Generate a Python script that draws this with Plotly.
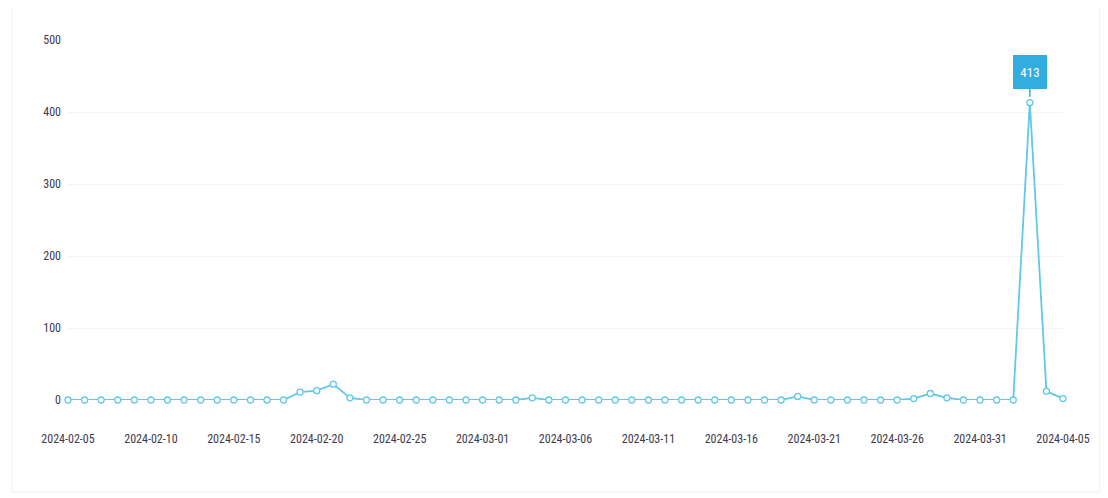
import plotly.graph_objects as go
import pandas as pd

dates = pd.date_range("2024-02-05", "2024-04-05", freq="D").strftime("%Y-%m-%d").tolist()
values = [
    0, 0, 0, 0, 0, 0, 0, 0, 0, 0,      # Feb 05-14
    0, 0, 0, 0, 11, 13, 22, 3, 0, 0,   # Feb 15-24
    0, 0, 0, 0, 0, 0, 0, 0, 3, 0,      # Feb 25-Mar 05
    0, 0, 0, 0, 0, 0, 0, 0, 0, 0,      # Mar 06-15
    0, 0, 0, 0, 5, 0, 0, 0, 0, 0,      # Mar 16-25
    0, 2, 9, 3, 0, 0, 0, 0, 413, 12,   # Mar 26-Apr 04
    2,                                 # Apr 05
]
tick_vals = dates[::5]
y_ticks = [0, 100, 200, 300, 400, 500]
peak_label = "413"

line_color = "#62c8e6"
label_color = "#33ade0"
text_color = "#3e3a4c"
font_family = "Liberation Sans Narrow, Arial Narrow, Roboto Condensed, Roboto, Liberation Sans"

fig = go.Figure()
fig.add_trace(go.Scatter(
    x=dates, y=values, mode="lines+markers",
    line=dict(color=line_color, width=1.8),
    marker=dict(symbol="circle", size=6, color="white",
                line=dict(color=line_color, width=1.3)),
    cliponaxis=False, hoverinfo="x+y", showlegend=False,
))

peak_i = values.index(max(values))
fig.add_annotation(
    x=dates[peak_i], y=values[peak_i], text=peak_label,
    showarrow=True, arrowhead=0, arrowwidth=1.5, arrowcolor=label_color,
    ax=0, ay=-31, standoff=6,
    bgcolor=label_color, bordercolor=label_color, borderwidth=1,
    width=30, height=30,
    font=dict(color="white", size=13, family=font_family),
)

fig.update_layout(
    width=1100, height=490,
    margin=dict(l=60, r=45, t=32, b=98, autoexpand=False),
    paper_bgcolor="white", plot_bgcolor="white",
    font=dict(family=font_family, size=12, color=text_color),
    xaxis=dict(
        type="date", range=[dates[0], dates[-1]],
        tickvals=tick_vals, ticktext=tick_vals,
        showgrid=False, zeroline=False, showline=False,
        ticks="", ticklabelstandoff=30, automargin=False,
        tickfont=dict(size=12, color=text_color),
    ),
    yaxis=dict(
        range=[0, 500], tickvals=y_ticks,
        showgrid=True, gridcolor="#f3f3f7", gridwidth=1,
        zeroline=False, showline=False, ticks="",
        ticklabelstandoff=6, automargin=False,
        tickfont=dict(size=12, color=text_color),
    ),
    shapes=[dict(type="rect", xref="paper", yref="paper",
                 x0=-0.0563, x1=1.037, y0=-0.256, y1=1.097,
                 line=dict(color="#f0f0f4", width=1), layer="below")],
)

fig.write_html("out.html")
